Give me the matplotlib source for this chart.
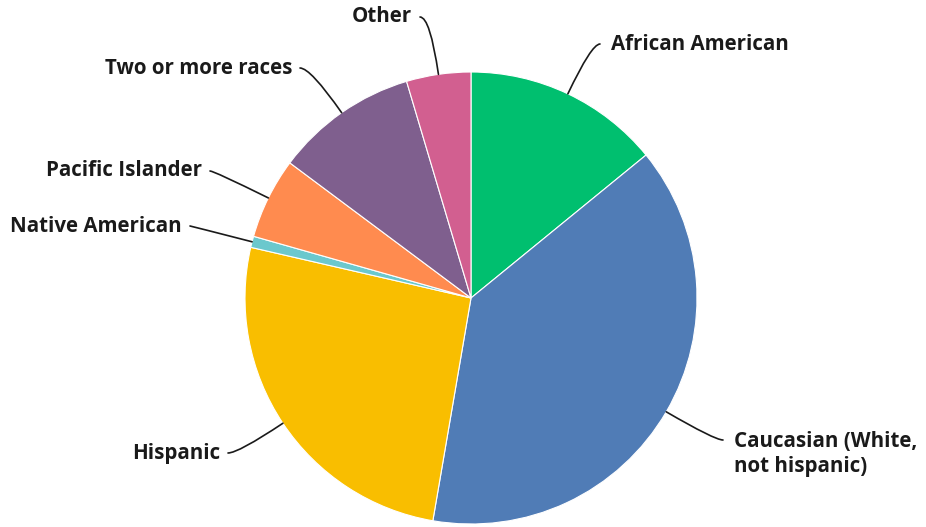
import matplotlib
matplotlib.use("Agg")
import matplotlib.pyplot as plt
import numpy as np

# slice order: clockwise from 12 o'clock
categories = ["African American", "Caucasian (White,\nnot hispanic)", "Hispanic",
              "Native American", "Pacific Islander", "Two or more races", "Other"]
shares = [14.1, 38.6, 25.9, 0.8, 5.8, 10.2, 4.6]
colors = ["#00BF6F", "#507CB6", "#F9BE00", "#6BC8CD", "#FF8B4F", "#7F5F8E", "#D25F90"]

W, H = 926, 527
CX, CY, R = 471, 298, 226  # pie centre / radius in screen pixels

# label anchor (screen px): where the leader line ends, and text alignment
label_pos = [(600, 44, "left"), (723, 440, "left"), (228, 453, "right"),
             (190, 226, "right"), (210, 171, "right"), (300, 68, "right"),
             (420, 17, "right")]

plt.rcParams["font.family"] = ["Open Sans", "DejaVu Sans"]

fig = plt.figure(figsize=(W / 100, H / 100), dpi=100)
ax = fig.add_axes([0, 0, 1, 1])

wedges, _ = ax.pie(shares, colors=colors, startangle=90, counterclock=False,
                   center=(CX, H - CY), radius=R,
                   wedgeprops=dict(edgecolor="white", linewidth=0.8))

for w, name, (lx, ly, ha) in zip(wedges, categories, label_pos):
    mid = np.deg2rad((w.theta1 + w.theta2) / 2)
    edge = (CX + R * np.cos(mid), H - CY + R * np.sin(mid))
    ang = np.rad2deg(mid)
    ax.annotate("", xy=edge, xytext=(lx, H - ly),
                arrowprops=dict(arrowstyle="-", color="#1a1a1a", lw=1.2,
                                shrinkA=0, shrinkB=0,
                                connectionstyle=f"angle3,angleA=0,angleB={ang:.1f}"))
    tx = lx + 11 if ha == "left" else lx - 8
    va = "center"
    ty = H - ly
    if "\n" in name:
        va = "top"
        ty = H - ly + 9
    ax.text(tx, ty, name, ha=ha, va=va, fontsize=14.8, fontweight="bold",
            color="#1a1a1a", linespacing=1.28)

ax.set_xlim(0, W)
ax.set_ylim(0, H)
ax.set_aspect("equal")
ax.axis("off")
fig.savefig("out.png", dpi=100)
